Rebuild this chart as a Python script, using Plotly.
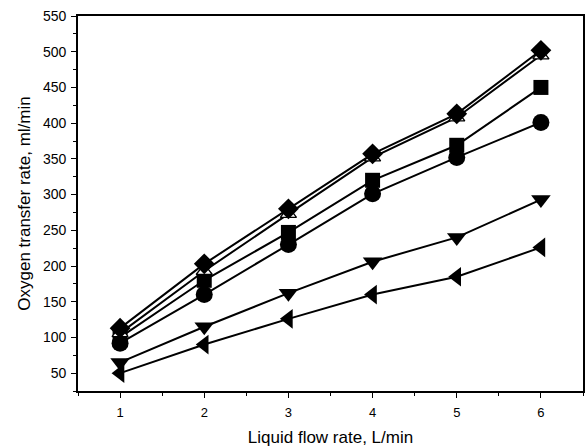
import plotly.graph_objects as go

flow = [1, 2, 3, 4, 5, 6]
s_diamond = [113, 203, 280, 357, 413, 502]
s_tri_up = [106, 193, 273, 352, 408, 495]
s_square = [100, 180, 247, 320, 369, 450]
s_circle = [92, 160, 230, 301, 352, 401]
s_tri_down = [65, 115, 162, 206, 240, 293]
s_tri_left = [50, 90, 126, 160, 185, 226]

series = [
    (s_tri_left, "triangle-left", "black", 17),
    (s_tri_down, "triangle-down", "black", 17),
    (s_circle, "circle", "black", 17),
    (s_square, "square", "black", 15),
    (s_tri_up, "triangle-up", "white", 14),
    (s_diamond, "diamond", "black", 16),
]

fig = go.Figure()
for ys, sym, fill, sz in series:
    fig.add_trace(go.Scatter(
        x=flow, y=ys, mode="lines+markers",
        line=dict(color="black", width=2),
        marker=dict(symbol=sym, size=sz, color=fill,
                    line=dict(color="black", width=1.3 if fill == "white" else 0)),
        showlegend=False,
    ))

axis_common = dict(
    showline=True, linecolor="black", linewidth=1.6, mirror=True,
    ticks="outside", ticklen=5, tickwidth=1.3, tickcolor="black",
    showgrid=False, zeroline=False,
)
fnt = "Liberation Sans, Arial"

fig.update_xaxes(
    range=[0.5, 6.5], tickvals=flow, ticktext=[str(v) for v in flow],
    tickfont=dict(family=fnt, size=13, color="black"), ticklabelstandoff=4,
    minor=dict(ticks="outside", ticklen=3, tickwidth=1, tickcolor="black", dtick=0.5, tick0=0.5),
    title=dict(text="Liquid flow rate, L/min", standoff=12,
               font=dict(family=fnt, size=17, color="black")),
    **axis_common,
)
fig.update_yaxes(
    range=[25, 550], tickvals=list(range(50, 551, 50)),
    tickfont=dict(family=fnt, size=14, color="black"), ticklabelstandoff=2,
    minor=dict(ticks="outside", ticklen=3, tickwidth=1, tickcolor="black", dtick=25, tick0=25),
    title=dict(text="Oxygen transfer rate, ml/min", standoff=8,
               font=dict(family=fnt, size=17, color="black")),
    **axis_common,
)

fig.update_layout(
    width=587, height=448,
    margin=dict(l=78, r=2, t=16, b=57),
    paper_bgcolor="white", plot_bgcolor="white",
)

fig.write_html("out.html")
